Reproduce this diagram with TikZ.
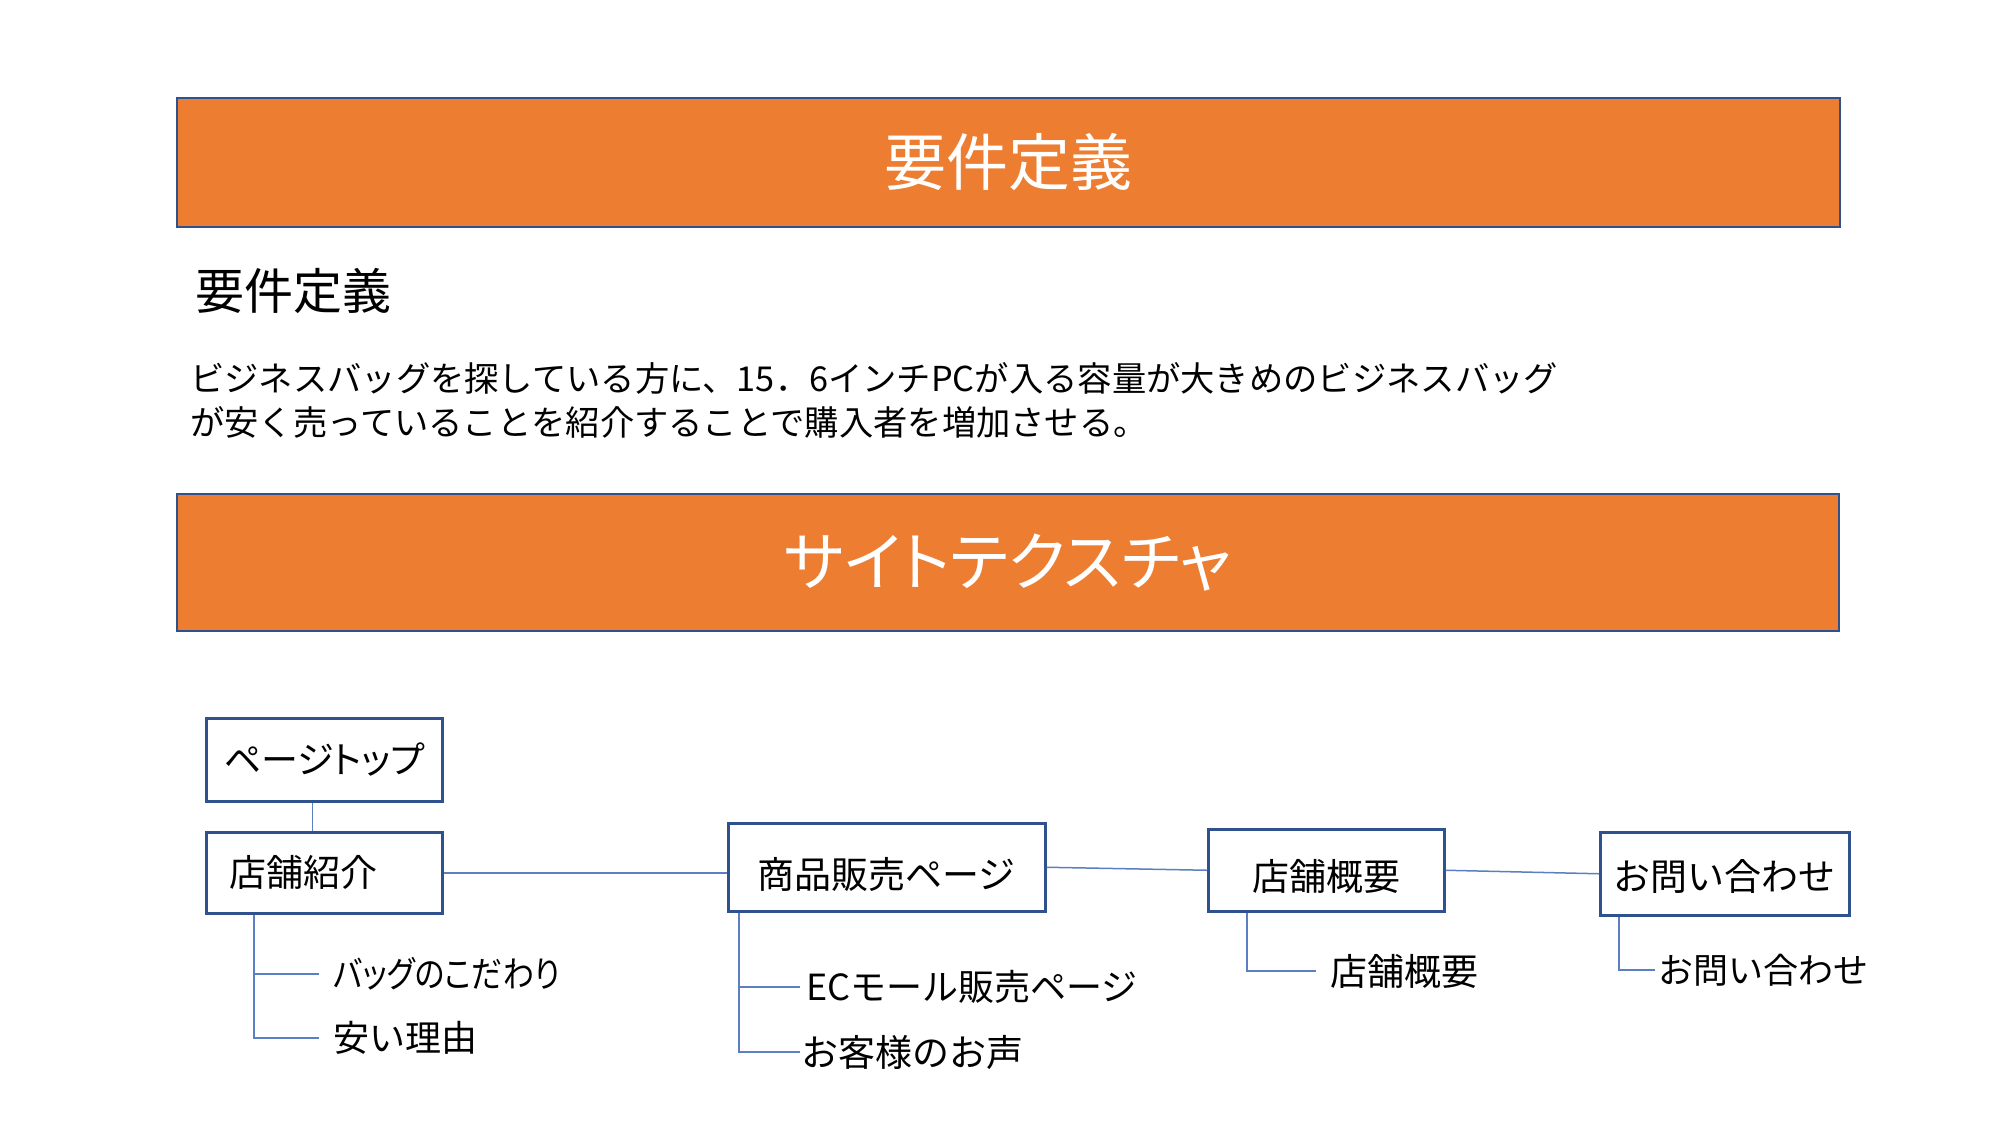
\documentclass[tikz,border=0pt]{standalone}
\usepackage{fontspec}
\setmainfont{Noto Sans CJK JP}
\newfontfamily\jpprop[RawFeature=+palt]{Noto Sans CJK JP}
\definecolor{bannerfill}{HTML}{ED7D31}
\definecolor{bordblue}{HTML}{2F528F}
\definecolor{linkblue}{HTML}{5B7FC0}
\newcommand{\lowtext}[2]{\raisebox{-#1}[\height][\depth]{#2}}
\begin{document}
\begin{tikzpicture}[x=1pt,y=-1pt,
  banner/.style={draw=bordblue, line width=2pt, fill=bannerfill, text=white,
    anchor=north west, font=\fontsize{62}{70}\selectfont},
  pagebox/.style={draw=bordblue, line width=2.5pt, fill=white, anchor=north west,
    font=\fontsize{37}{40}\selectfont},
  subitem/.style={anchor=west, inner xsep=14pt, inner ysep=0pt, font=\fontsize{36}{40}\selectfont},
  link/.style={draw=linkblue, line width=1.5pt}]
\fill[white] (0,0) rectangle (2001,1125);
\useasboundingbox (0,0) rectangle (2001,1125);

\node[banner, minimum width=1663pt, minimum height=129pt] (h1) at (176,97) {要件定義};
\node[anchor=west, inner sep=0pt, font=\fontsize{49}{50}\selectfont] (sub) at (195,291) {要件定義};
\node[anchor=north west, inner sep=0pt, align=left, font=\fontsize{34.3}{44}\selectfont] (para) at (190,362)
  {ビジネスバッグを探している方に、15．6インチPCが入る容量が大きめのビジネスバッグ\\が安く売っていることを紹介することで購入者を増加させる。};
\node[banner, minimum width=1662pt, minimum height=137pt, font=\jpprop\fontsize{64}{70}\selectfont] (h2) at (176,493) {サイトテクスチャ};

\node[pagebox, minimum width=236pt, minimum height=83pt, font=\jpprop\fontsize{37}{40}\selectfont] (b1) at (205,717) {ページトップ};
\node[pagebox, minimum width=236pt, minimum height=81pt, text width=190pt, align=left] (b2) at (205,831) {店舗紹介};
\node[pagebox, minimum width=317pt, minimum height=88pt] (b3) at (727,822) {\lowtext{7pt}{商品販売ページ}};
\node[pagebox, minimum width=236pt, minimum height=82pt] (b4) at (1207,828) {\lowtext{6pt}{店舗概要}};
\node[pagebox, minimum width=249pt, minimum height=83pt] (b5) at (1599,831) {\lowtext{3pt}{お問い合わせ}};

\node[subitem, font=\jpprop\fontsize{36}{40}\selectfont] (s1) at (319,974) {\scalebox{0.86}[1]{バッグのこだわり}};
\node[subitem] (s2) at (319,1038) {安い理由};
\node[subitem, inner xsep=6pt] (s3) at (800,987) {ECモール販売ページ};
\node[subitem, inner xsep=1pt, font=\fontsize{37}{40}\selectfont] (s4) at (800,1052) {お客様のお声};
\node[subitem, font=\fontsize{37}{40}\selectfont] (s5) at (1316,971) {店舗概要};
\node[subitem, inner xsep=3pt, font=\fontsize{35}{40}\selectfont] (s6) at (1655,970) {お問い合わせ};

\draw[link] ([xshift=-12pt]b1.south) -- ([xshift=-12pt]b2.north);
\draw[link] (b2.east) -- (b3.west |- b2.east);
\draw[link] (b3.east) -- (b4.west);
\draw[link] (b4.east) -- (b5.west);

\draw[link] ([xshift=49pt]b2.south west) |- (s1.west);
\draw[link] ([xshift=49pt]b2.south west) |- (s2.west);
\draw[link] ([xshift=12pt]b3.south west) |- (s3.west);
\draw[link] ([xshift=12pt]b3.south west) |- (s4.west);
\draw[link] ([xshift=40pt]b4.south west) |- (s5.west);
\draw[link] ([xshift=20pt]b5.south west) |- (s6.west);
\end{tikzpicture}
\end{document}
